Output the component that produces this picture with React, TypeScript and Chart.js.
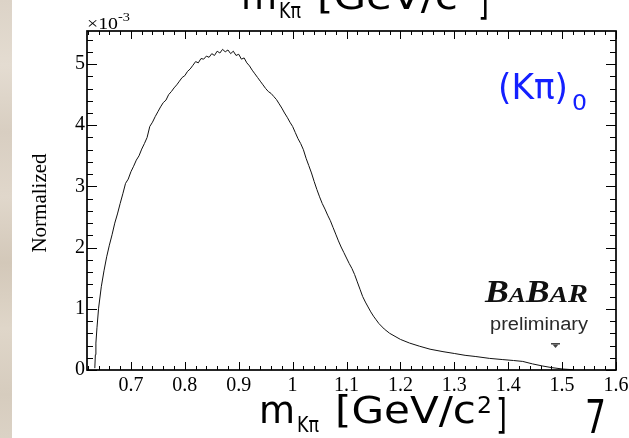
import React, { useEffect, useRef } from "react";
import { Chart, registerables } from "chart.js";

Chart.register(...registerables);

// m(Kπ) in GeV/c^2
const massValues = [
  0.633, 0.634, 0.635, 0.637, 0.640, 0.645, 0.650, 0.655, 0.660, 0.665,
  0.670, 0.675, 0.680, 0.685, 0.690, 0.695, 0.700, 0.705, 0.710, 0.715,
  0.720, 0.725, 0.730, 0.735, 0.740, 0.745, 0.750, 0.755, 0.760, 0.765,
  0.770, 0.775, 0.780, 0.785, 0.790, 0.795, 0.800, 0.805, 0.810, 0.815,
  0.820, 0.825, 0.830, 0.835, 0.840, 0.845, 0.850, 0.855, 0.860, 0.865,
  0.870, 0.875, 0.880, 0.885, 0.890, 0.895, 0.900, 0.905, 0.910, 0.915,
  0.920, 0.925, 0.930, 0.935, 0.940, 0.945, 0.950, 0.955, 0.960, 0.965,
  0.970, 0.975, 0.980, 0.985, 0.990, 0.995, 1.000, 1.005, 1.010, 1.015,
  1.020, 1.025, 1.030, 1.035, 1.040, 1.045, 1.050, 1.055, 1.060, 1.065,
  1.070, 1.075, 1.080, 1.085, 1.090, 1.095, 1.100, 1.105, 1.110, 1.115,
  1.120, 1.125, 1.130, 1.135, 1.140, 1.145, 1.150, 1.155, 1.160, 1.170,
  1.180, 1.190, 1.200, 1.217, 1.235, 1.255, 1.279, 1.300, 1.320, 1.340,
  1.365, 1.390, 1.410, 1.427, 1.445, 1.464, 1.480, 1.501, 1.520,
];

// Normalized yield, in units of 10^-3
const normValues = [
  0.03, 0.25, 0.44, 0.69, 1.01, 1.36, 1.62, 1.85, 2.04, 2.21,
  2.40, 2.55, 2.72, 2.88, 3.05, 3.12, 3.24, 3.33, 3.43, 3.50,
  3.61, 3.70, 3.80, 3.98, 4.05, 4.14, 4.22, 4.30, 4.37, 4.41,
  4.50, 4.55, 4.61, 4.66, 4.72, 4.78, 4.81, 4.88, 4.92, 4.98,
  5.04, 5.02, 5.09, 5.08, 5.13, 5.11, 5.17, 5.14, 5.21, 5.18,
  5.24, 5.20, 5.23, 5.17, 5.21, 5.14, 5.16, 5.08, 5.10, 5.02,
  4.97, 4.90, 4.84, 4.78, 4.72, 4.66, 4.60, 4.55, 4.52, 4.47,
  4.42, 4.35, 4.28, 4.20, 4.13, 4.05, 3.98, 3.88, 3.78, 3.70,
  3.60, 3.46, 3.34, 3.22, 3.08, 2.95, 2.83, 2.72, 2.63, 2.53,
  2.44, 2.33, 2.22, 2.11, 2.01, 1.92, 1.83, 1.74, 1.66, 1.56,
  1.44, 1.32, 1.20, 1.11, 1.03, 0.95, 0.88, 0.82, 0.76, 0.67,
  0.60, 0.55, 0.50, 0.44, 0.39, 0.34, 0.30, 0.27, 0.24, 0.22,
  0.19, 0.17, 0.155, 0.14, 0.10, 0.065, 0.04, 0.016, 0.005,
];

const xTickValues = [0.7, 0.8, 0.9, 1.0, 1.1, 1.2, 1.3, 1.4, 1.5, 1.6];
const xTickLabels = ["0.7", "0.8", "0.9", "1", "1.1", "1.2", "1.3", "1.4", "1.5", "1.6"];
const yTickValues = [0, 1, 2, 3, 4, 5];
const yTickLabels = ["0", "1", "2", "3", "4", "5"];

const X_MIN = 0.6185;
const X_MAX = 1.6;
const Y_MIN = 0;
const Y_MAX = 5.54;

const SERIF = "'Liberation Serif', 'Times New Roman', serif";
const SANS = "'DejaVu Sans', sans-serif";

function drawFit(
  ctx: CanvasRenderingContext2D,
  text: string,
  x: number,
  y: number,
  font: string,
  width: number | null,
  color: string
) {
  ctx.save();
  ctx.font = font;
  ctx.fillStyle = color;
  ctx.textAlign = "left";
  ctx.textBaseline = "alphabetic";
  const nat = ctx.measureText(text).width;
  const sx = width ? width / nat : 1;
  ctx.translate(x, y);
  ctx.scale(sx, 1);
  ctx.fillText(text, 0, 0);
  ctx.restore();
}

function drawMassTitle(ctx: CanvasRenderingContext2D, dx: number, dy: number) {
  drawFit(ctx, "m", 259 + dx, 423 + dy, `37px ${SANS}`, 36, "#000");
  drawFit(ctx, "Kπ", 297 + dx, 432 + dy, `21px ${SANS}`, 22, "#000");
  drawFit(ctx, "[GeV/c", 335 + dx, 423 + dy, `37px ${SANS}`, 141, "#000");
  drawFit(ctx, "2", 477 + dx, 413 + dy, `23px ${SANS}`, 15, "#000");
  drawFit(ctx, "]", 496 + dx, 428 + dy, `41px ${SANS}`, 11, "#000");
}

const decorations = {
  id: "decorations",
  beforeDraw(chart: any) {
    const ctx: CanvasRenderingContext2D = chart.ctx;
    ctx.save();
    const g = ctx.createLinearGradient(0, 0, 0, chart.height);
    g.addColorStop(0, "#dcd3c7");
    g.addColorStop(0.15, "#e4dcd1");
    g.addColorStop(0.3, "#d8cec1");
    g.addColorStop(0.45, "#e0d7cb");
    g.addColorStop(0.6, "#d3c8b9");
    g.addColorStop(0.75, "#dfd6c9");
    g.addColorStop(0.9, "#d6ccbe");
    g.addColorStop(1, "#dbd2c5");
    ctx.fillStyle = g;
    ctx.fillRect(0, 0, 12, chart.height);
    ctx.restore();
  },
  afterDraw(chart: any) {
    const ctx: CanvasRenderingContext2D = chart.ctx;
    const { left, right, top, bottom } = chart.chartArea;
    const xs = chart.scales.x;
    const ys = chart.scales.y;
    ctx.save();
    ctx.strokeStyle = "#000";
    ctx.lineWidth = 1;
    ctx.beginPath();
    for (let k = 31; k <= 80; k++) {
      const v = k * 0.02;
      if (v < X_MIN - 1e-9 || v > X_MAX + 1e-9) continue;
      const px = Math.round(xs.getPixelForValue(v)) + 0.5;
      const len = k % 5 === 0 ? 8 : 4;
      ctx.moveTo(px, bottom);
      ctx.lineTo(px, bottom - len);
      ctx.moveTo(px, top);
      ctx.lineTo(px, top + len);
    }
    for (let k = 0; k <= 27; k++) {
      const v = k * 0.2;
      if (v > Y_MAX) continue;
      const py = Math.round(ys.getPixelForValue(v)) + 0.5;
      const len = k % 5 === 0 ? 10 : 6;
      ctx.moveTo(left, py);
      ctx.lineTo(left + len, py);
      ctx.moveTo(right, py);
      ctx.lineTo(right - len, py);
    }
    ctx.stroke();
    ctx.lineWidth = 1.7;
    ctx.strokeRect(left, top, right - left, bottom - top);
    ctx.restore();

    // exponent
    drawFit(ctx, "×10", 87, 29, `17px ${SERIF}`, 31, "#000");
    drawFit(ctx, "-3", 118, 21, `12px ${SERIF}`, 12, "#000");

    // y title
    ctx.save();
    ctx.translate(46, 203);
    ctx.rotate(-Math.PI / 2);
    ctx.font = `21px ${SERIF}`;
    ctx.fillStyle = "#000";
    ctx.textAlign = "center";
    ctx.textBaseline = "alphabetic";
    ctx.fillText("Normalized", 0, 0);
    ctx.restore();

    // titles
    drawMassTitle(ctx, 0, 0);
    drawMassTitle(ctx, -18, -414);
    drawFit(ctx, "7", 585, 433, `46px ${SANS}`, 21, "#000");

    // (Kπ)0 label
    const blue = "#1420ff";
    drawFit(ctx, "(Kπ)", 498, 99, `36px ${SANS}`, 70, blue);
    drawFit(ctx, "0", 572, 110, `21px ${SANS}`, 15, blue);

    // BaBar logo
    const bi = (s: number) => `italic bold ${s}px ${SERIF}`;
    const parts: [string, number][] = [["B", 31], ["A", 22], ["B", 31], ["A", 24], ["R", 26]];
    ctx.save();
    ctx.fillStyle = "#111";
    ctx.textBaseline = "alphabetic";
    ctx.textAlign = "left";
    let nat = 0;
    for (const [t, s] of parts) {
      ctx.font = bi(s);
      nat += ctx.measureText(t).width;
    }
    const sx = 103 / nat;
    ctx.translate(485, 302);
    ctx.scale(sx, 1);
    let x = 0;
    for (const [t, s] of parts) {
      ctx.font = bi(s);
      ctx.fillText(t, x, 0);
      x += ctx.measureText(t).width;
    }
    ctx.restore();
    drawFit(ctx, "preliminary", 490, 330, `18px 'Liberation Sans', Arial, sans-serif`, 98, "#2a2a2a");
    ctx.save();
    ctx.fillStyle = "#444";
    ctx.fillRect(551, 343, 9, 1.5);
    ctx.beginPath();
    ctx.moveTo(552.5, 344.5);
    ctx.lineTo(558.5, 344.5);
    ctx.lineTo(555.5, 348);
    ctx.closePath();
    ctx.fill();
    ctx.restore();
  },
};

export default function App() {
  const ref = useRef<HTMLCanvasElement | null>(null);
  useEffect(() => {
    if (!ref.current) return;
    const data = massValues.map((m, i) => ({ x: m, y: normValues[i] }));
    const chart = new Chart(ref.current, {
      type: "line",
      data: {
        datasets: [
          {
            data,
            borderColor: "#111",
            borderWidth: 1,
            pointRadius: 0,
            tension: 0,
            fill: false,
          },
        ],
      },
      options: {
        responsive: false,
        animation: false,
        devicePixelRatio: 1,
        layout: { padding: { left: 0, top: 31, right: 13, bottom: 0 } },
        plugins: {
          legend: { display: false },
          tooltip: { enabled: false },
          title: { display: false },
        },
        scales: {
          x: {
            type: "linear",
            min: X_MIN,
            max: X_MAX,
            grid: { display: false, drawTicks: false },
            border: { display: false },
            afterBuildTicks: (s: any) => {
              s.ticks = xTickValues.map((v) => ({ value: v }));
            },
            afterFit: (s: any) => {
              s.height = 68;
              s.paddingLeft = 0;
              s.paddingRight = 0;
            },
            ticks: {
              callback: (_v: any, i: number) => xTickLabels[i],
              font: { family: "'Liberation Serif', 'Times New Roman', serif", size: 20 },
              color: "#000",
              padding: 4,
              maxRotation: 0,
              autoSkip: false,
            },
          },
          y: {
            type: "linear",
            min: Y_MIN,
            max: Y_MAX,
            grid: { display: false, drawTicks: false },
            border: { display: false },
            afterBuildTicks: (s: any) => {
              s.ticks = yTickValues.map((v) => ({ value: v }));
            },
            afterFit: (s: any) => {
              s.width = 87;
              s.paddingTop = 0;
              s.paddingBottom = 0;
            },
            ticks: {
              callback: (_v: any, i: number) => yTickLabels[i],
              font: { family: "'Liberation Serif', 'Times New Roman', serif", size: 20 },
              color: "#000",
              padding: 2,
              autoSkip: false,
            },
          },
        },
      },
      plugins: [decorations],
    } as any);
    return () => chart.destroy();
  }, []);
  return (
    <div style={{ position: "absolute", left: 0, top: 0, width: 629, height: 438, background: "#fff" }}>
      <canvas ref={ref} width={629} height={438} style={{ display: "block" }} />
    </div>
  );
}
